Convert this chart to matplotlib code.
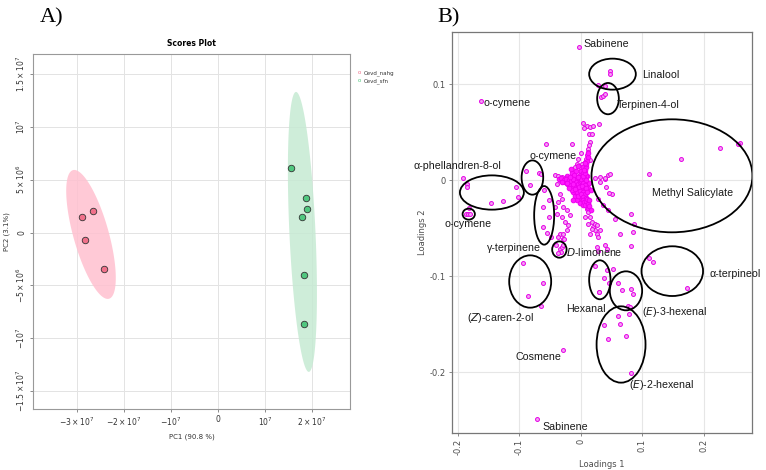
import numpy as np
import matplotlib
matplotlib.use("Agg")
import matplotlib.pyplot as plt
from matplotlib.patches import Ellipse, Polygon

# ---- panel A data (PCA scores) ----
groups = ["Cevd_nahg", "Cevd_sfn"]
pc1_nahg = [-2.90e7, -2.66e7, -2.84e7, -2.42e7]
pc2_nahg = [1.5e6, 2.0e6, -0.75e6, -3.46e6]
pc1_sfn = [1.55e7, 1.87e7, 1.90e7, 1.79e7, 1.84e7, 1.83e7]
pc2_sfn = [6.07e6, 3.3e6, 2.2e6, 1.5e6, -4.0e6, -8.7e6]
xticksA = [-3e7, -2e7, -1e7, 0, 1e7, 2e7]
xlabA = [r"$-3\times10^{7}$", r"$-2\times10^{7}$", r"$-10^{7}$", "0", r"$10^{7}$", r"$2\times10^{7}$"]
yticksA = [-1.5e7, -1e7, -5e6, 0, 5e6, 1e7, 1.5e7]
ylabA = [r"$-1.5\times10^{7}$", r"$-10^{7}$", r"$-5\times10^{6}$", "0",
         r"$5\times10^{6}$", r"$10^{7}$", r"$1.5\times10^{7}$"]

# ---- panel B data (loadings) ----
# isolated / labelled variables
l1_sparse = [-0.003, 0.047, 0.047, 0.028, 0.040, 0.032, 0.036, 0.039, -0.163,
             0.004, 0.010, 0.015, 0.019, 0.029, 0.005, 0.0125, 0.018, -0.056, -0.014,
             0.259, 0.255, 0.2257, 0.1634, 0.111, 0.082, 0.0866,
             0.047, 0.039, 0.031, 0.023, 0.046, 0.0406,
             -0.191, -0.1846, -0.1856, -0.1055, -0.1023, -0.127, -0.1466,
             -0.1867, -0.1834, -0.1802, -0.181,
             -0.0898, -0.0677, -0.065, -0.0828,
             -0.060, -0.061, -0.0515, -0.061, -0.0557, -0.0487, -0.0525,
             -0.041, -0.034, -0.031, -0.033, -0.037,
             -0.0287, -0.027, -0.0297,
             0.0255, 0.028, 0.039, 0.0417, 0.0807,
             0.0227, 0.0427, 0.0525, 0.0373, 0.045, 0.0606, 0.029, 0.030, 0.067,
             0.0807, 0.0839, 0.0768, 0.0795, 0.0784,
             0.111, 0.1164, 0.172,
             0.061, 0.0378, 0.0638, 0.0433, 0.073, 0.0812,
             -0.0937, -0.0612, -0.0855, -0.0644,
             -0.0292, -0.072]
l2_sparse = [0.1385, 0.114, 0.111, 0.0997, 0.098, 0.0868, 0.0882, 0.0896, 0.083,
             0.0597, 0.0566, 0.0559, 0.0562, 0.0587, 0.0542, 0.048, 0.0486, 0.0375, 0.038,
             0.0389, 0.0375, 0.0337, 0.0219, 0.007, -0.0347, -0.045,
             0.007, 0.0024, 0.0034, 0.0024, -0.0132, -0.007,
             0.0028, -0.0034, -0.007, -0.007, -0.0174, -0.0215, -0.0236,
             -0.035, -0.035, -0.035, -0.029,
             0.0097, 0.0076, 0.007, -0.0052,
             -0.0097, -0.0278, -0.038, -0.0486, -0.0549, -0.059, -0.020,
             -0.0677, -0.0712, -0.0695, -0.0747, -0.0757,
             -0.0677, -0.0607, -0.0555,
             -0.0695, -0.0736, -0.0677, -0.0719, -0.0684,
             -0.0896, -0.093, -0.092, -0.1017, -0.107, -0.1066, -0.1163, -0.1160, -0.1146,
             -0.1128, -0.118, -0.131, -0.132, -0.139,
             -0.0805, -0.0854, -0.112,
             -0.1417, -0.151, -0.150, -0.165, -0.162, -0.2003,
             -0.0858, -0.107, -0.120, -0.131,
             -0.1767, -0.249]
# arms of the central cluster
l1_arms = [0.0146, 0.0135, 0.0119, 0.0109, 0.0093, 0.0076, 0.0065, 0.0054, 0.0037, 0.0119,
           0.0146, 0.0011, -0.0016, 0.000, -0.0044, -0.007, -0.0097, 0.031, 0.039, 0.0443,
           -0.0422, -0.0368, -0.0313, -0.026, -0.0206, -0.0151, -0.0097, -0.0341, -0.0394,
           -0.0287, -0.0232,
           -0.0341, -0.0313, -0.0368, -0.0287, -0.0232, -0.0179, -0.0313, -0.026, -0.0206,
           -0.0341, -0.0287, -0.0368, -0.0232, -0.0422, -0.0394,
           0.0011, 0.0037, 0.0065, 0.0093, 0.0119, 0.0146, 0.0174, 0.020, 0.0227, 0.0255,
           0.0281, 0.0119, 0.0174, 0.0065, 0.0227, 0.0308, 0.0146, 0.0255,
           0.028, 0.036, 0.0443, 0.050, 0.055, 0.063, 0.085]
l2_arms = [0.0399, 0.0365, 0.033, 0.0295, 0.026, 0.0226, 0.019, 0.0156, 0.0122, 0.0243,
           0.0208, 0.0174, 0.0139, 0.028, 0.0226, 0.0174, 0.0139, -0.0018, 0.0018, 0.0052,
           0.0052, 0.0042, 0.0034, 0.0028, 0.0018, 0.000, -0.0007, 0.000, -0.0034,
           -0.0018, -0.0042,
           -0.0139, -0.019, -0.0226, -0.0278, -0.0313, -0.0365, -0.0382, -0.0434, -0.0469,
           -0.0555, -0.0607, -0.059, -0.0521, -0.0278, -0.0347,
           -0.0139, -0.019, -0.0243, -0.0295, -0.033, -0.0382, -0.0434, -0.0486, -0.0521, -0.0555,
           -0.059, -0.0451, -0.0503, -0.0382, -0.0451, -0.0521, -0.0555, -0.0469,
           -0.019, -0.026, -0.031, -0.0139, -0.040, -0.0555, -0.054]
# saturated centre of the cluster
l1_core = [-0.018, -0.014, -0.010, -0.006, -0.002, 0.002, 0.006, 0.009, -0.016, -0.012,
           -0.008, -0.004, 0.000, 0.004, 0.008, -0.010, -0.006, -0.002, 0.002, 0.005,
           -0.014, -0.008, 0.000, 0.004, -0.020, -0.004, 0.001, -0.007, 0.007, -0.012,
           0.010, -0.002, 0.003, -0.009, 0.011, -0.016, 0.003, -0.005, -0.022, -0.026,
           -0.015, -0.011, -0.003, 0.006, 0.013, 0.016, 0.009, -0.019, -0.024, 0.012,
           -0.008, -0.005, -0.002, 0.001, 0.004, 0.007, -0.007, -0.003, 0.002, 0.006,
           0.009, -0.006, -0.001, 0.003, 0.007, -0.004, 0.000, 0.004, 0.008, 0.001,
           -0.004, 0.005, 0.008, -0.010, 0.010,
           -0.036, -0.032, -0.028, -0.024, -0.020, -0.016, -0.013, -0.030, -0.022, -0.017,
           -0.012,
           0.004, 0.006, 0.007, 0.008, 0.009, 0.010, 0.011, 0.012, 0.005, 0.007,
           0.003, 0.005, 0.007, 0.009, 0.011, 0.012, 0.014, 0.016, 0.010, 0.013]
l2_core = [0.002, -0.003, 0.004, 0.001, 0.006, 0.003, 0.000, -0.004, -0.008, -0.012,
           -0.006, -0.010, -0.004, -0.008, -0.012, -0.016, -0.020, -0.015, -0.019, -0.014,
           0.008, 0.010, 0.010, 0.008, -0.005, 0.000, -0.009, -0.013, -0.020, -0.020,
           0.004, -0.024, -0.026, 0.000, -0.008, 0.012, 0.014, 0.015, 0.004, -0.002,
           -0.010, 0.006, 0.003, -0.016, -0.003, -0.010, 0.005, -0.008, 0.001, -0.024,
           -0.002, -0.004, -0.002, -0.001, -0.003, -0.005, -0.008, -0.007, -0.006, -0.009,
           -0.008, -0.012, -0.011, -0.012, -0.014, -0.016, -0.014, -0.017, -0.018, 0.001,
           0.003, 0.002, 0.000, -0.009, -0.012,
           0.001, 0.002, 0.000, 0.001, 0.000, -0.001, 0.001, -0.002, -0.003, 0.003,
           -0.004,
           0.005, 0.008, 0.011, 0.014, 0.017, 0.020, 0.024, 0.028, 0.011, 0.018,
           -0.021, -0.023, -0.026, -0.022, -0.025, -0.029, -0.027, -0.031, -0.019, -0.021]

# compound labels: text, x, y
lab_text = ["Sabinene", "Linalool", "Terpinen-4-ol", "o-cymene", "o-cymene",
            "\u03b1-phellandren-8-ol", "o-cymene", "Methyl Salicylate", "\u03b3-terpinene",
            r"$\it{D}$-limonene", "\u03b1-terpineol", "Hexanal", r"($\it{E}$)-3-hexenal",
            r"($\it{Z}$)-caren-2-ol", "Cosmene", r"($\it{E}$)-2-hexenal", "Sabinene"]
lab_x = [0.0038, 0.100, 0.0589, -0.1586, -0.0828, -0.2722, -0.2219, 0.116, -0.1521,
         -0.0248, 0.2094, -0.0244, 0.100, -0.1846, -0.1056, 0.0779, -0.0622]
lab_y = [0.1424, 0.1094, 0.0788, 0.0805, 0.025, 0.0149, -0.0458, -0.0132, -0.0701,
         -0.0747, -0.0972, -0.1341, -0.1372, -0.1430, -0.1844, -0.2128, -0.2570]

# hand-drawn group ellipses: centre x, centre y, width, height
ell_cx = [0.0514, 0.0441, 0.148, -0.1445, -0.1821, -0.0787, -0.0596, -0.0349,
          -0.0823, 0.0308, 0.0733, 0.1485, 0.0653]
ell_cy = [0.1106, 0.0851, 0.0047, -0.0127, -0.0352, 0.0029, -0.0365, -0.0721,
          -0.1054, -0.1036, -0.1151, -0.0946, -0.171]
ell_w = [0.0758, 0.0352, 0.2614, 0.1039, 0.020, 0.0351, 0.0325, 0.0234,
         0.0682, 0.0347, 0.0525, 0.100, 0.0795]
ell_h = [0.0323, 0.0326, 0.1177, 0.0357, 0.0115, 0.0357, 0.061, 0.017,
         0.0545, 0.0406, 0.0406, 0.0518, 0.0795]

fig = plt.figure(figsize=(7.66, 4.70), dpi=100)
W, H = 766.0, 470.0

# ================= Panel A =================
axA = fig.add_axes([33 / W, 1 - 409 / H, (350 - 33) / W, (409 - 54) / H])
gcol = ["#f0708a", "#50c77f"]
ecol = ["#ffc0cf", "#c6ead3"]
k = np.sqrt(5.991)  # 95 % confidence
t = np.linspace(0, 2 * np.pi, 200)
for xs, ys, fc, ec in [(pc1_nahg, pc2_nahg, gcol[0], ecol[0]), (pc1_sfn, pc2_sfn, gcol[1], ecol[1])]:
    pts = np.column_stack([xs, ys])
    mu = pts.mean(axis=0)
    cov = np.cov(pts.T)
    vals, vecs = np.linalg.eigh(cov)
    circ = np.vstack([np.cos(t), np.sin(t)])
    e = (vecs @ np.diag(np.sqrt(vals)) @ circ) * k
    axA.add_patch(Polygon(np.column_stack([e[0] + mu[0], e[1] + mu[1]]), closed=True,
                          fc=ec, ec="none", alpha=0.85, zorder=1))
    axA.scatter(xs, ys, s=22, c=fc, edgecolors="#333333", linewidths=0.6, zorder=3)

axA.set_xlim(-3.94e7, 2.81e7)
axA.set_ylim(-1.67e7, 1.69e7)
axA.set_xticks(xticksA)
axA.set_xticklabels(xlabA, fontsize=5.5, color="#333333")
axA.set_yticks(yticksA)
axA.set_yticklabels(ylabA, fontsize=5.5, color="#333333", rotation=90, va="center")
axA.grid(True, color="#e3e3e3", lw=0.7)
axA.set_axisbelow(True)
for s in axA.spines.values():
    s.set_color("#999999")
    s.set_linewidth(0.8)
axA.tick_params(length=2.5, width=0.6, color="#777777", pad=2)
axA.set_title("Scores Plot", fontsize=5.5, fontweight="bold", pad=6)
axA.set_xlabel("PC1 (90.8 %)", fontsize=5, color="#333333", labelpad=4)
axA.set_ylabel("PC2 (3.1%)", fontsize=5, color="#333333", labelpad=3)

# legend outside the box
for i, g in enumerate(groups):
    yy = 73 + i * 8
    fig.text(359 / W, 1 - yy / H, "o", color=gcol[i], fontsize=4, ha="center", va="center")
    fig.text(364 / W, 1 - yy / H, g, color="#333333", fontsize=4, ha="left", va="center")

fig.text(40 / W, 1 - 18 / H, "A)", family="Liberation Serif", fontsize=16, va="center")

# ================= Panel B =================
axB = fig.add_axes([452 / W, 1 - 433 / H, (752 - 452) / W, (433 - 32) / H])
axB.scatter(l1_arms + l1_sparse, l2_arms + l2_sparse, s=8, c="#f3a0f3",
            edgecolors="#e600e6", linewidths=0.7, zorder=3)
axB.scatter(l1_core, l2_core, s=11, c="#ff1aff", edgecolors="#ee00ee",
            linewidths=0.7, zorder=3)
for cx, cy, w, h in zip(ell_cx, ell_cy, ell_w, ell_h):
    axB.add_patch(Ellipse((cx, cy), w, h, fill=False, ec="black", lw=1.3, zorder=4))
for tx, x, y in zip(lab_text, lab_x, lab_y):
    axB.text(x, y, tx, fontsize=7.7, family=["Liberation Sans", "DejaVu Sans"],
             ha="left", va="center", color="#1a1a1a", zorder=5, clip_on=False)

axB.set_xlim(-0.2093, 0.278)
axB.set_ylim(-0.2632, 0.1545)
axB.set_xticks([-0.2, -0.1, 0, 0.1, 0.2])
axB.set_xticklabels(["-0.2", "-0.1", "0", "0.1", "0.2"], rotation=90, fontsize=6, color="#4d4d4d")
axB.set_yticks([-0.2, -0.1, 0, 0.1])
axB.set_yticklabels(["-0.2", "-0.1", "0", "0.1"], fontsize=6, color="#4d4d4d")
axB.grid(True, color="#e6e6e6", lw=0.8)
axB.set_axisbelow(True)
for s in axB.spines.values():
    s.set_color("#777777")
    s.set_linewidth(0.9)
axB.tick_params(length=2.5, width=0.6, color="#777777", pad=2)
axB.set_xlabel("Loadings 1", fontsize=6, color="#4d4d4d", labelpad=3)
axB.set_ylabel("Loadings 2", fontsize=6, color="#4d4d4d", labelpad=2)

fig.text(437 / W, 1 - 18 / H, "B)", family="Liberation Serif", fontsize=16, va="center")

fig.savefig("out.png", dpi=100)
